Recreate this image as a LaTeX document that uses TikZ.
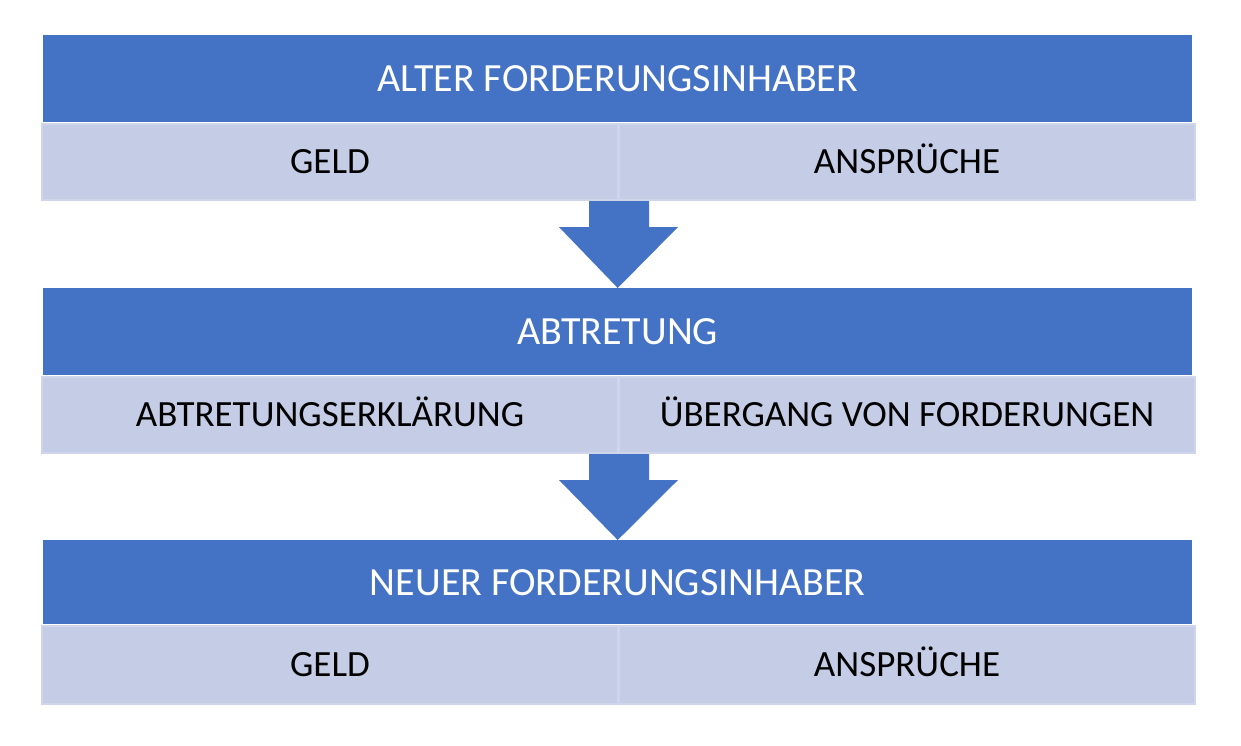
\documentclass[tikz,border=0pt]{standalone}
\usepackage{fontspec}
\setmainfont{Carlito}
\usetikzlibrary{calc}
\definecolor{hdr}{HTML}{4472C4}
\definecolor{cell}{HTML}{C4CCE6}
\definecolor{cellb}{HTML}{CFD5EB}
\newcommand{\myblockarrow}[2]{%
  \fill[hdr] ($(#1)+(-30,0)$) -- ($(#1)+(30,0)$) -- ($(#1)+(30,26)$) -- ($(#1)+(59,26)$)
    -- (#2) -- ($(#1)+(-60,26)$) -- ($(#1)+(-30,26)$) -- cycle;}
\begin{document}
\begin{tikzpicture}[x=1pt,y=-1pt,
  hdrbox/.style={fill=hdr, draw=none, minimum width=1149pt, minimum height=87pt,
    inner sep=0pt, text=white, font=\fontsize{40}{40}\selectfont, anchor=north west,
    text height=25.8pt, text depth=0pt},
  cellbox/.style={fill=cell, draw=cellb, line width=2pt, minimum width=576pt,
    minimum height=76pt, inner sep=0pt, text=black, font=\fontsize{37}{37}\selectfont, anchor=north west,
    text height=23.8pt, text depth=0pt}]
\useasboundingbox (0,0) rectangle (1241,745);
\fill[white] (0,0) rectangle (1241,745);

\node[hdrbox] (h1) at (43,35) {ALTER FORDERUNGSINHABER};
\node[cellbox] (c1a) at (41,123) {GELD};
\node[cellbox] (c1b) at (618,123) {ANSPRÜCHE};

\node[hdrbox] (h2) at (43,288) {ABTRETUNG};
\node[cellbox] (c2a) at (41,376) {ABTRETUNGSERKLÄRUNG};
\node[cellbox] (c2b) at (618,376) {ÜBERGANG VON FORDERUNGEN};

\node[hdrbox, minimum height=84pt] (h3) at (43,540) {NEUER FORDERUNGSINHABER};
\node[cellbox, minimum height=78pt] (c3a) at (41,625) {GELD};
\node[cellbox, minimum height=78pt] (c3b) at (618,625) {ANSPRÜCHE};

\myblockarrow{c1a.south east}{h2.north}
\myblockarrow{c2a.south east}{h3.north}
\end{tikzpicture}
\end{document}
